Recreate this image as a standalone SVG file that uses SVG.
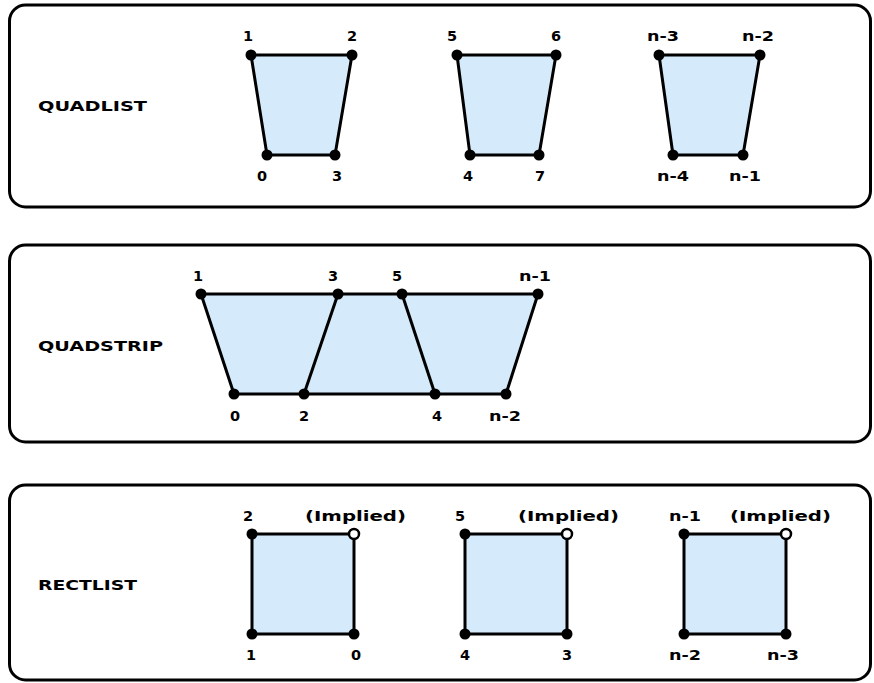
<svg xmlns="http://www.w3.org/2000/svg" width="874" height="683" viewBox="0 0 874 683">
<style>
.panel{fill:#fff;stroke:#000;stroke-width:3}
.shape{fill:#d5ebfb;stroke:#000;stroke-width:3;stroke-linejoin:round}
.edge{stroke:#000;stroke-width:3}
.dot{fill:#000}
.open{fill:#fff;stroke:#000;stroke-width:2.5}
text{font-family:"DejaVu Sans","Verdana",sans-serif;font-weight:bold;font-size:14.5px;fill:#000}
.lbl{text-anchor:middle}
.title{font-size:14.5px}
</style>
<defs>
<circle id="v" r="5.5" class="dot"/>
</defs>
<g id="panel-quadlist">
<rect class="panel" x="9.5" y="5" width="861" height="202" rx="16"/>
<text class="title" x="38" y="111" textLength="109" lengthAdjust="spacingAndGlyphs">QUADLIST</text>
</g>
<g id="quadlist-q1">
<polygon class="shape" points="251,55 352,55 335,155 267,155"/>
<use href="#v" x="251" y="55"/><use href="#v" x="352" y="55"/><use href="#v" x="267" y="155"/><use href="#v" x="335" y="155"/>
<text class="lbl" x="248" y="41">1</text><text class="lbl" x="352" y="41">2</text>
<text class="lbl" x="262" y="181">0</text><text class="lbl" x="337" y="181">3</text>
</g>
<g id="quadlist-q2">
<polygon class="shape" points="457,55 556,55 539,155 470,155"/>
<use href="#v" x="457" y="55"/><use href="#v" x="556" y="55"/><use href="#v" x="470" y="155"/><use href="#v" x="539" y="155"/>
<text class="lbl" x="452" y="41">5</text><text class="lbl" x="556" y="41">6</text>
<text class="lbl" x="468" y="181">4</text><text class="lbl" x="540" y="181">7</text>
</g>
<g id="quadlist-qn">
<polygon class="shape" points="659,55 760,55 743,155 673,155"/>
<use href="#v" x="659" y="55"/><use href="#v" x="760" y="55"/><use href="#v" x="673" y="155"/><use href="#v" x="743" y="155"/>
<text class="lbl" x="663" y="41" textLength="32" lengthAdjust="spacingAndGlyphs">n-3</text>
<text class="lbl" x="758" y="41" textLength="32" lengthAdjust="spacingAndGlyphs">n-2</text>
<text class="lbl" x="673" y="181" textLength="32" lengthAdjust="spacingAndGlyphs">n-4</text>
<text class="lbl" x="745" y="181" textLength="32" lengthAdjust="spacingAndGlyphs">n-1</text>
</g>
<g id="panel-quadstrip">
<rect class="panel" x="9.5" y="245" width="861" height="197" rx="16"/>
<text class="title" x="38" y="351" textLength="125" lengthAdjust="spacingAndGlyphs">QUADSTRIP</text>
</g>
<g id="quadstrip">
<polygon class="shape" points="201,294 538,294 506,394 234,394"/>
<g id="connectors">
<line class="edge" x1="338" y1="294" x2="304" y2="394"/>
<line class="edge" x1="402" y1="294" x2="435" y2="394"/>
</g>
<use href="#v" x="201" y="294"/><use href="#v" x="338" y="294"/><use href="#v" x="402" y="294"/><use href="#v" x="538" y="294"/>
<use href="#v" x="234" y="394"/><use href="#v" x="304" y="394"/><use href="#v" x="435" y="394"/><use href="#v" x="506" y="394"/>
<text class="lbl" x="198" y="281">1</text><text class="lbl" x="333" y="281">3</text><text class="lbl" x="397" y="281">5</text>
<text class="lbl" x="535" y="281" textLength="32" lengthAdjust="spacingAndGlyphs">n-1</text>
<text class="lbl" x="235" y="421">0</text><text class="lbl" x="304" y="421">2</text><text class="lbl" x="437" y="421">4</text>
<text class="lbl" x="505" y="421" textLength="32" lengthAdjust="spacingAndGlyphs">n-2</text>
</g>
<g id="panel-rectlist">
<rect class="panel" x="9.5" y="485" width="861" height="195" rx="16"/>
<text class="title" x="38" y="590" textLength="99" lengthAdjust="spacingAndGlyphs">RECTLIST</text>
</g>
<g id="rectlist-r1">
<rect class="shape" x="252" y="534" width="102" height="100"/>
<use href="#v" x="252" y="534"/><use href="#v" x="252" y="634"/><use href="#v" x="354" y="634"/>
<circle class="open" cx="354" cy="534" r="5"/>
<text class="lbl" x="248" y="521">2</text>
<text x="305" y="521" textLength="101" lengthAdjust="spacingAndGlyphs">(Implied)</text>
<text class="lbl" x="251" y="660">1</text><text class="lbl" x="356" y="660">0</text>
</g>
<g id="rectlist-r2">
<rect class="shape" x="465" y="534" width="102" height="100"/>
<use href="#v" x="465" y="534"/><use href="#v" x="465" y="634"/><use href="#v" x="567" y="634"/>
<circle class="open" cx="567" cy="534" r="5"/>
<text class="lbl" x="460" y="521">5</text>
<text x="518" y="521" textLength="101" lengthAdjust="spacingAndGlyphs">(Implied)</text>
<text class="lbl" x="465" y="660">4</text><text class="lbl" x="567" y="660">3</text>
</g>
<g id="rectlist-rn">
<rect class="shape" x="684" y="534" width="102" height="100"/>
<use href="#v" x="684" y="534"/><use href="#v" x="684" y="634"/><use href="#v" x="786" y="634"/>
<circle class="open" cx="786" cy="534" r="5"/>
<text class="lbl" x="685" y="521" textLength="32" lengthAdjust="spacingAndGlyphs">n-1</text>
<text x="730" y="521" textLength="101" lengthAdjust="spacingAndGlyphs">(Implied)</text>
<text class="lbl" x="685" y="660" textLength="32" lengthAdjust="spacingAndGlyphs">n-2</text>
<text class="lbl" x="783" y="660" textLength="32" lengthAdjust="spacingAndGlyphs">n-3</text>
</g>
</svg>
